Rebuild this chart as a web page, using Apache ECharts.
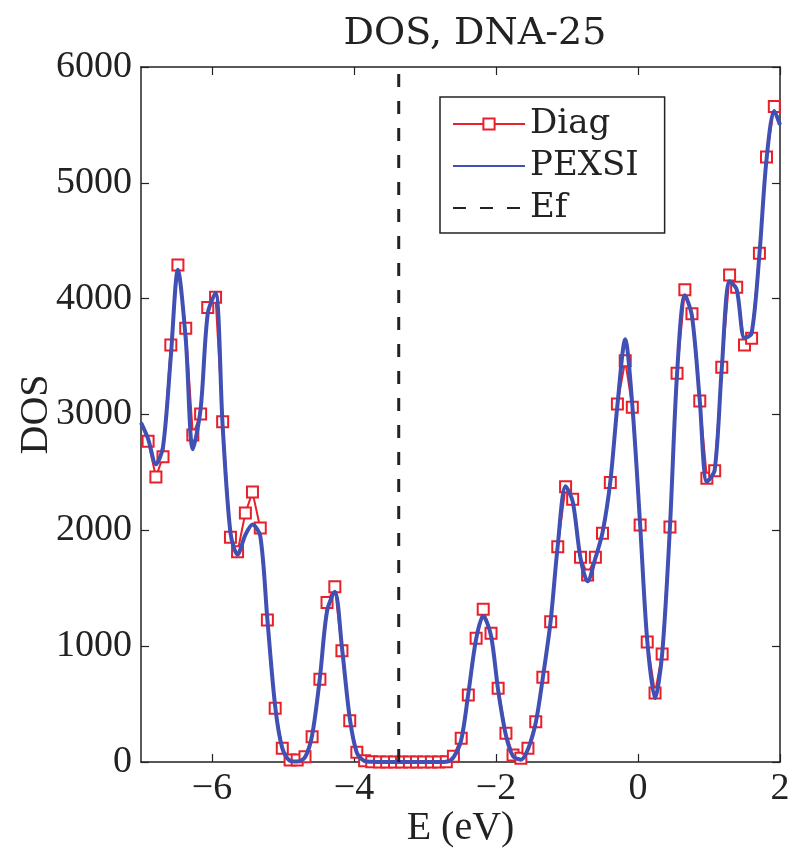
<!DOCTYPE html>
<html>
<head>
<meta charset="utf-8">
<script src="https://cdn.jsdelivr.net/npm/echarts@6/dist/echarts.min.js"></script>
<style>
  html, body { margin: 0; padding: 0; background: #fff; }
  #main { width: 794px; height: 852px; }
</style>
</head>
<body>
<div id="main"></div>
<script>
// energies of the Diag samples (eV)
var energy = [
  -6.90, -6.79, -6.69, -6.58, -6.48, -6.37, -6.27, -6.16, -6.06, -5.95,
  -5.85, -5.74, -5.64, -5.53, -5.43, -5.32, -5.22, -5.11, -5.01, -4.90,
  -4.80, -4.69, -4.59, -4.48, -4.38, -4.27, -4.17, -4.06, -3.96, -3.85,
  -3.75, -3.64, -3.54, -3.43, -3.33, -3.22, -3.12, -3.02, -2.91, -2.81,
  -2.70, -2.60, -2.49, -2.39, -2.28, -2.18, -2.07, -1.97, -1.86, -1.76,
  -1.65, -1.55, -1.44, -1.34, -1.23, -1.13, -1.02, -0.92, -0.81, -0.71,
  -0.60, -0.50, -0.39, -0.29, -0.18, -0.08, 0.03, 0.13, 0.24, 0.34,
  0.45, 0.55, 0.66, 0.76, 0.87, 0.97, 1.08, 1.18, 1.29, 1.39,
  1.50, 1.60, 1.71, 1.81, 1.92
];
var diagDos = [
  2770, 2460, 2636, 3600, 4290, 3745, 2823, 3005, 3923, 4012,
  2938, 1940, 1815, 2150, 2330, 2020, 1226, 464, 118, 17,
  17, 46, 218, 714, 1376, 1514, 961, 357, 85, 10,
  3, 0, 0, 0, 0, 0, 0, 0, 0, 0,
  3, 50, 205, 579, 1068, 1318, 1111, 636, 248, 60,
  32, 118, 348, 731, 1211, 1859, 2377, 2268, 1768, 1615,
  1768, 1975, 2412, 3091, 3465, 3063, 2047, 1036, 596, 933,
  2029, 3356, 4076, 3869, 3117, 2450, 2515, 3408, 4205, 4099,
  3601, 3659, 4393, 5222, 5659
];
// PEXSI curve: same energies plus both ends of the window
var pexsiEnergy = [-7.0].concat(energy, [2.0]);
var pexsiDos = [
  2930,
  2790, 2570, 2720, 3500, 4250, 3650, 2700, 3050, 3870, 4050,
  2900, 1980, 1790, 1960, 2050, 1950, 1230, 480, 120, 10,
  5, 40, 230, 730, 1300, 1470, 990, 380, 80, 8,
  2, 0, 0, 0, 0, 0, 0, 0, 0, 0,
  2, 40, 190, 590, 1060, 1260, 1090, 620, 230, 50,
  20, 110, 340, 730, 1220, 1870, 2380, 2250, 1760, 1560,
  1760, 1980, 2420, 3080, 3650, 3080, 2050, 1050, 550, 930,
  2030, 3350, 4030, 3850, 3120, 2420, 2520, 3400, 4150, 4080,
  3660, 3700, 4380, 5200, 5620,
  5500
];
var efEnergy = -3.37;
var xTicks = [-6, -4, -2, 0, 2];

var FONT = 'DejaVu Serif';
var TICKFONT = 'Liberation Serif';
function pairs(xs, ys) {
  var out = [];
  for (var i = 0; i < xs.length; i++) out.push([xs[i], ys[i]]);
  return out;
}
function minus(v) { return String(v).replace('-', '\u2212'); }

var axisLineStyle = { show: true, onZero: false, lineStyle: { color: '#222', width: 1.5 } };
var tickStyle = { color: '#222', width: 1.2 };

var myChart = echarts.init(document.getElementById('main'));
var option = {
  animation: false,
  backgroundColor: '#fff',
  title: {
    text: 'DOS, DNA-25',
    left: 470,
    textAlign: 'center',
    top: 10,
    textStyle: { fontFamily: FONT, fontSize: 38, fontWeight: 'normal', color: '#222' }
  },
  legend: {
    orient: 'vertical',
    left: 440,
    top: 97,
    padding: [10, 26, 8, 12],
    itemWidth: 72,
    itemHeight: 14,
    itemGap: 8,
    backgroundColor: '#fff',
    borderColor: '#222',
    borderWidth: 1.5,
    textStyle: { fontFamily: FONT, fontSize: 34, color: '#222' },
    data: [
      { name: 'Diag' },
      { name: 'PEXSI', itemStyle: { opacity: 0 } },
      { name: 'Ef', itemStyle: { opacity: 0 } }
    ]
  },
  grid: { left: 141, right: 14, top: 67, bottom: 90, outerBoundsMode: 'none' },
  xAxis: [
    {
      type: 'value', min: -7, max: 2,
      name: 'E (eV)', nameLocation: 'middle', nameGap: 46, nameMoveOverlap: false,
      nameTextStyle: { fontFamily: TICKFONT, fontSize: 40, color: '#222' },
      axisLine: axisLineStyle,
      axisTick: { inside: true, length: 8, customValues: xTicks, lineStyle: tickStyle },
      axisLabel: { customValues: xTicks, margin: 8, formatter: minus,
        fontFamily: TICKFONT, fontSize: 38, color: '#222' },
      splitLine: { show: false }
    },
    {
      type: 'value', min: -7, max: 2, position: 'top',
      axisLine: axisLineStyle,
      axisTick: { inside: true, length: 8, customValues: xTicks, lineStyle: tickStyle },
      axisLabel: { show: false },
      splitLine: { show: false }
    }
  ],
  yAxis: [
    {
      type: 'value', min: 0, max: 6000, interval: 1000, position: 'left',
      name: 'DOS', nameLocation: 'middle', nameGap: 85, nameRotate: 90, nameMoveOverlap: false,
      nameTextStyle: { fontFamily: TICKFONT, fontSize: 40, color: '#222' },
      axisLine: axisLineStyle,
      axisTick: { show: true, inside: true, length: 8, lineStyle: tickStyle },
      axisLabel: { margin: 9, formatter: function (v) { return String(v); },
        fontFamily: TICKFONT, fontSize: 38, color: '#222' },
      splitLine: { show: false }
    },
    {
      type: 'value', min: 0, max: 6000, interval: 1000, position: 'right',
      axisLine: axisLineStyle,
      axisTick: { show: true, inside: true, length: 8, lineStyle: tickStyle },
      axisLabel: { show: false },
      splitLine: { show: false }
    }
  ],
  series: [
    {
      name: 'Diag',
      type: 'line',
      data: pairs(energy, diagDos),
      symbol: 'emptyRect',
      symbolSize: 11,
      showAllSymbol: true,
      itemStyle: { color: '#e8202a', borderWidth: 2.2 },
      lineStyle: { color: '#e8202a', width: 2 },
      silent: true,
      z: 2
    },
    {
      name: 'PEXSI',
      type: 'line',
      data: pairs(pexsiEnergy, pexsiDos),
      smooth: 0.3,
      symbol: 'none',
      itemStyle: { color: '#4150b4' },
      lineStyle: { color: '#4150b4', width: 4 },
      silent: true,
      z: 3
    },
    {
      name: 'Ef',
      type: 'line',
      data: [[efEnergy, 0], [efEnergy, 6000]],
      symbol: 'none',
      itemStyle: { color: '#222' },
      lineStyle: { color: '#222', width: 3, type: [13, 14] },
      silent: true,
      z: 4
    }
  ]
};
myChart.setOption(option);
</script>
</body>
</html>
